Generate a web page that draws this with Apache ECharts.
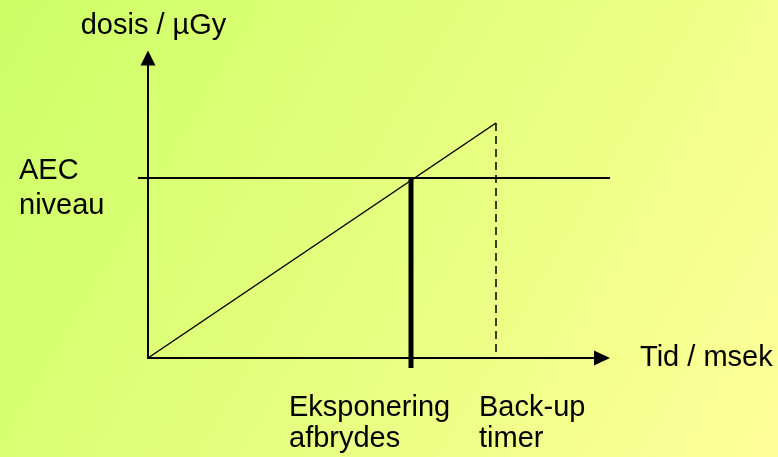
<!DOCTYPE html>
<html>
<head>
<meta charset="utf-8">
<title>AEC</title>
<script src="https://cdn.jsdelivr.net/npm/echarts@6/dist/echarts.min.js"></script>
<style>
  html, body { margin: 0; padding: 0; }
  #chart { width: 778px; height: 457px; }
</style>
</head>
<body>
<div id="chart"></div>
<script>
  // data (tid on x, dosis on y)
  const dosisKurve = [[0, 0], [34.8, 23.5]];
  const aecNiveau = 18;
  const aecFraTil = [-1.0, 46.2];
  const afbrydTid = 26.3;
  const afbrydBund = -1.0;
  const backupTid = 34.8;
  const backupTop = 23.5;
  const tidMax = 45.4;
  const dosisMax = 30;

  const fontFam = '"Liberation Sans", Arial, sans-serif';

  let chart = echarts.init(document.getElementById('chart'));
  let hiddenAxis = { show: false, splitLine: { show: false } };
  let option = {
    animation: false,
    backgroundColor: {
      type: 'linear', x: 0, y: 0, x2: 1, y2: 1,
      colorStops: [
        { offset: 0, color: '#ccff66' },
        { offset: 1, color: '#ffff99' }
      ]
    },
    grid: [
      { left: 148, right: 176, top: 58, bottom: 99 },
      // wider twin grid (same scale) so the AEC line can run past both axes
      { left: 138, right: 168, top: 58, bottom: 99 }
    ],
    xAxis: [
      {
        type: 'value',
        min: 0,
        max: tidMax,
        name: 'Tid / msek',
        nameLocation: 'end',
        nameGap: 38,
        nameTextStyle: { color: '#000', fontSize: 29, fontFamily: fontFam },
        axisLine: {
          lineStyle: { color: '#000', width: 2 },
          symbol: ['none', 'triangle'],
          symbolSize: [15, 16]
        },
        axisTick: { show: false },
        axisLabel: { show: false },
        splitLine: { show: false }
      },
      Object.assign({ type: 'value', gridIndex: 1, min: aecFraTil[0], max: aecFraTil[1] }, hiddenAxis)
    ],
    yAxis: [
      {
        type: 'value',
        min: 0,
        max: dosisMax,
        name: 'dosis / µGy',
        nameLocation: 'end',
        nameGap: 18,
        nameTextStyle: { color: '#000', fontSize: 29, fontFamily: fontFam, lineHeight: 29, padding: [0, 0, 0, 11] },
        axisLine: {
          show: true,
          lineStyle: { color: '#000', width: 2 },
          symbol: ['none', 'triangle'],
          symbolSize: [15, 15]
        },
        axisTick: { show: false },
        axisLabel: { show: false },
        splitLine: { show: false }
      },
      Object.assign({ type: 'value', gridIndex: 1, min: 0, max: dosisMax }, hiddenAxis)
    ],
    series: [
      {
        // dosis stiger lineært
        type: 'line',
        data: dosisKurve,
        showSymbol: false,
        clip: false,
        silent: true,
        lineStyle: { color: '#000', width: 1.5 }
      },
      {
        // AEC niveau
        type: 'line',
        xAxisIndex: 1,
        yAxisIndex: 1,
        data: [[aecFraTil[0], aecNiveau], [aecFraTil[1], aecNiveau]],
        showSymbol: false,
        clip: false,
        silent: true,
        lineStyle: { color: '#000', width: 2 }
      },
      {
        // eksponering afbrydes
        type: 'line',
        data: [[afbrydTid, aecNiveau], [afbrydTid, afbrydBund]],
        showSymbol: false,
        clip: false,
        silent: true,
        lineStyle: { color: '#000', width: 5, cap: 'butt' }
      },
      {
        // back-up timer
        type: 'line',
        data: [[backupTid, backupTop], [backupTid, 0]],
        showSymbol: false,
        clip: false,
        silent: true,
        lineStyle: { color: '#000', width: 1.5, type: [8, 5] }
      }
    ],
    graphic: [
      {
        type: 'text', left: 19, top: 153,
        style: { text: 'AEC\nniveau', fill: '#000', font: '29px ' + fontFam, lineHeight: 35 }
      },
      {
        type: 'text', left: 289, top: 392,
        style: { text: 'Eksponering\nafbrydes', fill: '#000', font: '29px ' + fontFam, lineHeight: 31 }
      },
      {
        type: 'text', left: 479, top: 392,
        style: { text: 'Back-up\ntimer', fill: '#000', font: '29px ' + fontFam, lineHeight: 31 }
      }
    ]
  };
  chart.setOption(option);
</script>
</body>
</html>
